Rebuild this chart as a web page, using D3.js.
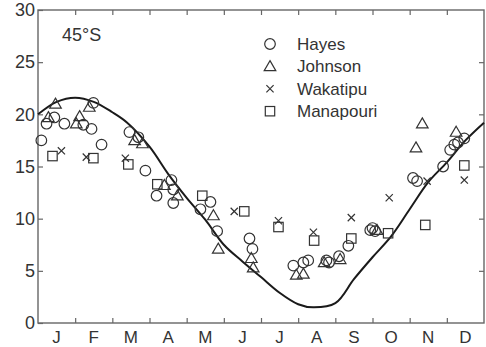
<!DOCTYPE html>
<html>
<head>
<meta charset="utf-8">
<script src="https://cdn.jsdelivr.net/npm/d3@7"></script>
<style>
  body { margin: 0; background: #fff; }
  svg { font-family: "Liberation Sans", Arial, sans-serif; }
</style>
</head>
<body>
<svg id="chart" width="486" height="347"></svg>
<script>
// month position (0 = start of Jan, 12 = end of Dec), value
var months = ['J', 'F', 'M', 'A', 'M', 'J', 'J', 'A', 'S', 'O', 'N', 'D'];
var yTicks = [0, 5, 10, 15, 20, 25, 30];

var curve = [[0, 20.0], [0.5, 21.2], [1, 21.6], [1.5, 21.2], [2, 20.2], [2.4, 19.2], [3, 16.9],
  [3.5, 14.3], [4, 12.0], [4.5, 9.9], [5, 7.5], [5.5, 5.9], [6, 4.4], [6.5, 2.9], [7, 1.8],
  [7.4, 1.5], [8, 1.9], [8.5, 4.2], [9, 6.3], [9.5, 8.3], [10, 10.9], [10.5, 13.5], [11, 15.4],
  [11.5, 17.5], [12, 19.2]];

var hayes = [[0.09, 17.5], [0.23, 19.1], [0.44, 19.7], [0.71, 19.1], [1.22, 19.0], [1.44, 18.6],
  [1.49, 21.1], [1.71, 17.1], [2.46, 18.3], [2.70, 17.8], [2.89, 14.6], [3.19, 12.2], [3.59, 13.7],
  [3.64, 12.8], [3.64, 11.5], [4.37, 10.9], [4.64, 11.6], [4.82, 8.8], [5.69, 8.1], [5.77, 7.1],
  [6.87, 5.5], [7.14, 5.8], [7.27, 6.0], [7.76, 6.0], [7.83, 5.8], [8.10, 6.4], [8.35, 7.4],
  [8.94, 8.9], [9.00, 9.1], [9.07, 8.8], [10.09, 13.9], [10.20, 13.6], [10.90, 15.0],
  [11.09, 16.6], [11.20, 17.1], [11.30, 17.3], [11.47, 17.7]];

var johnson = [[0.47, 21.0], [0.28, 19.7], [1.12, 19.8], [1.03, 19.1], [1.38, 20.7], [2.60, 17.5],
  [2.81, 17.2], [3.40, 13.2], [3.75, 12.2], [4.72, 10.3], [4.85, 7.1], [5.74, 6.2], [5.79, 5.3],
  [6.95, 4.6], [7.14, 4.7], [7.70, 5.8], [8.13, 6.1], [9.12, 8.9], [10.17, 16.8], [10.34, 19.1],
  [11.25, 18.3]];

var wakatipu = [[0.63, 16.5], [1.30, 15.9], [2.35, 15.8], [5.28, 10.7], [6.47, 9.8], [7.41, 8.7],
  [8.43, 10.1], [9.45, 12.0], [10.47, 13.6], [11.47, 13.7]];

var manapouri = [[0.39, 16.0], [1.49, 15.8], [2.43, 15.2], [3.21, 13.3], [4.42, 12.2], [5.55, 10.7],
  [6.47, 9.2], [7.43, 7.9], [8.43, 8.1], [9.42, 8.6], [10.42, 9.4], [11.47, 15.1]];

var series = [
  { name: 'Hayes', data: hayes, shape: 'circle' },
  { name: 'Johnson', data: johnson, shape: 'triangle' },
  { name: 'Wakatipu', data: wakatipu, shape: 'cross' },
  { name: 'Manapouri', data: manapouri, shape: 'square' }
];

var svg = d3.select('#chart');
var plotLeft = 38, plotRight = 484, plotTop = 10, plotBottom = 323;
var ink = '#333';
var axisCol = '#666';

var x = d3.scaleLinear().domain([0, 12]).range([plotLeft, plotRight]);
var y = d3.scaleLinear().domain([0, 30]).range([plotBottom, plotTop]);

// frame
svg.append('rect')
  .attr('x', plotLeft).attr('y', plotTop)
  .attr('width', plotRight - plotLeft).attr('height', plotBottom - plotTop)
  .attr('fill', 'none').attr('stroke', axisCol).attr('stroke-width', 1.4);

// y ticks, inward on both sides
var yAxisL = d3.axisLeft(y).tickValues(yTicks).tickSizeInner(-5).tickSizeOuter(0).tickPadding(8);
var gl = svg.append('g').attr('transform', 'translate(' + plotLeft + ',0)').call(yAxisL);
gl.select('.domain').remove();
gl.selectAll('line').attr('stroke', axisCol).attr('stroke-width', 1.2);
gl.selectAll('text').attr('font-size', 18).attr('fill', ink).attr('x', -3);

var yAxisR = d3.axisRight(y).tickValues(yTicks.slice(1, -1)).tickSizeInner(-5).tickSizeOuter(0).tickFormat('');
var gr = svg.append('g').attr('transform', 'translate(' + plotRight + ',0)').call(yAxisR);
gr.select('.domain').remove();
gr.selectAll('line').attr('stroke', axisCol).attr('stroke-width', 1.2);

// month boundary ticks, inward top and bottom
var bounds = d3.range(1, 12);
var gb = svg.append('g').attr('transform', 'translate(0,' + plotBottom + ')')
  .call(d3.axisBottom(x).tickValues(bounds).tickSizeInner(-5).tickSizeOuter(0).tickFormat(''));
gb.select('.domain').remove();
gb.selectAll('line').attr('stroke', axisCol).attr('stroke-width', 1.2);
var gt = svg.append('g').attr('transform', 'translate(0,' + plotTop + ')')
  .call(d3.axisTop(x).tickValues(bounds).tickSizeInner(-5).tickSizeOuter(0).tickFormat(''));
gt.select('.domain').remove();
gt.selectAll('line').attr('stroke', axisCol).attr('stroke-width', 1.2);

// month labels centred in each month
svg.append('g').selectAll('text')
  .data(months)
  .join('text')
  .attr('x', function (d, i) { return x(i + 0.5); })
  .attr('y', 343)
  .attr('text-anchor', 'middle')
  .attr('font-size', 17)
  .attr('fill', ink)
  .text(function (d) { return d; });

// fitted curve
var line = d3.line()
  .x(function (d) { return x(d[0]); })
  .y(function (d) { return y(d[1]); })
  .curve(d3.curveCatmullRom);
svg.append('path')
  .attr('d', line(curve))
  .attr('fill', 'none')
  .attr('stroke', '#1a1a1a')
  .attr('stroke-width', 2);

function drawSymbol(g, shape) {
  if (shape === 'circle') {
    g.append('circle').attr('r', 5.3);
  } else if (shape === 'triangle') {
    g.append('path').attr('d', 'M0,-5.8L5.8,4.2L-5.8,4.2Z');
  } else if (shape === 'square') {
    g.append('rect').attr('x', -4.7).attr('y', -4.7).attr('width', 9.4).attr('height', 9.4);
  } else {
    g.append('path').attr('d', 'M-3.6,-3.6L3.6,3.6M-3.6,3.6L3.6,-3.6');
  }
}

series.forEach(function (s) {
  var g = svg.append('g')
    .attr('fill', 'none')
    .attr('stroke', ink)
    .attr('stroke-width', 1.2);
  s.data.forEach(function (d) {
    var p = g.append('g').attr('transform', 'translate(' + x(d[0]) + ',' + y(d[1]) + ')');
    drawSymbol(p, s.shape);
  });
});

// legend
series.forEach(function (s, i) {
  var ly = 44 + i * 22.4;
  var g = svg.append('g')
    .attr('transform', 'translate(270,' + ly + ')')
    .attr('fill', 'none').attr('stroke', ink).attr('stroke-width', 1.2);
  drawSymbol(g, s.shape);
  svg.append('text')
    .attr('x', 297).attr('y', ly + 6)
    .attr('font-size', 17)
    .attr('fill', ink)
    .text(s.name);
});

svg.append('text')
  .attr('x', 62).attr('y', 41)
  .attr('font-size', 18)
  .attr('fill', ink)
  .text('45°S');
</script>
</body>
</html>
